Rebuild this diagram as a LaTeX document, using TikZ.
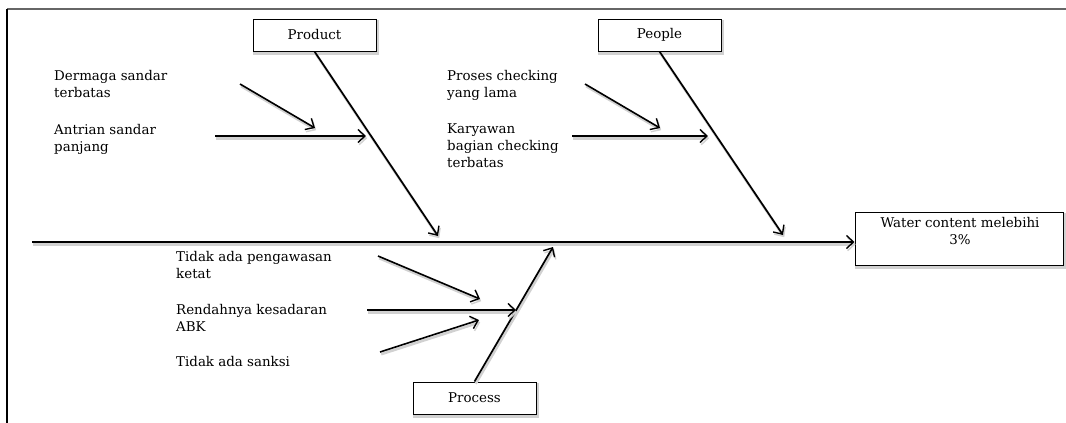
\documentclass[tikz,border=0pt]{standalone}
\usepackage{fontspec}
\setmainfont{DejaVu Serif}
\usetikzlibrary{arrows.meta}
\begin{document}
\begin{tikzpicture}[x=1pt,y=-1pt,
  every node/.style={font=\fontsize{13.4}{17}\selectfont},
  soft/.style={preaction={draw=black!18,line width=2.6pt,transform canvas={shift={(1.2pt,-2.2pt)}}}},
  catbox/.style={draw,line width=1pt,soft,fill=white,minimum width=123pt,minimum height=32pt,inner sep=0pt},
  bone/.style={line width=1.7pt,soft,-{Straight Barb[length=7pt,width=13pt,line width=1.4pt]}},
  cause/.style={line width=1.6pt,soft,-{Straight Barb[length=7pt,width=13pt,line width=1.4pt]}},
  lbl/.style={anchor=base west,align=left,inner sep=0pt}]
\useasboundingbox (0,0) rectangle (1066,423);
% page frame
\draw[line width=1.6pt,black!60] (7,9) -- (1066,9);
\draw[line width=1.4pt] (7,9) -- (7,423);

% effect and spine
\node[draw,line width=1pt,soft,fill=white,minimum width=208pt,minimum height=53pt,inner sep=0pt] (effect) at (959,238.5) {};
\node[anchor=north,align=center,inner sep=0pt] (efftext) at (960,217) {Water content melebihi\\3\%};
\coordinate (tail) at (32,242);
\draw[bone] (tail) -- (effect.west |- tail);

% category boxes
\node[catbox] (product) at (314.5,35) {Product};
\node[catbox] (people) at (659.5,35) {People};
\node[catbox] (process) at (474.5,398) {Process};

% bones
\coordinate (pEnd) at (438,236);
\coordinate (peEnd) at (783,235);
\coordinate (prEnd) at (553,247);
\draw[bone] (product.south) -- (pEnd);
\draw[bone] (people.south) -- (peEnd);
\draw[bone] (process.north) -- (prEnd);

% causes: Product
\node[lbl] (c1) at (54,97) {Dermaga sandar\\terbatas};
\node[lbl] (c2) at (54,151) {Antrian sandar\\panjang};
\coordinate (a1s) at (240,84); \coordinate (a1e) at (315,128);
\coordinate (a2s) at (215,136); \coordinate (a2e) at (366,136);
\draw[cause] (a1s) -- (a1e);
\draw[cause] (a2s) -- (a2e);

% causes: People
\node[lbl] (c3) at (447,97) {Proses checking\\yang lama};
\node[lbl] (c4) at (447,167) {Karyawan\\bagian checking\\terbatas};
\coordinate (a3s) at (585,84); \coordinate (a3e) at (660,128);
\coordinate (a4s) at (572,136); \coordinate (a4e) at (708,136);
\draw[cause] (a3s) -- (a3e);
\draw[cause] (a4s) -- (a4e);

% causes: Process
\node[lbl] (c5) at (176,278) {Tidak ada pengawasan\\ketat};
\node[lbl] (c6) at (176,331) {Rendahnya kesadaran\\ABK};
\node[lbl] (c7) at (176,366) {Tidak ada sanksi};
\coordinate (a5s) at (378,256); \coordinate (a5e) at (480,299);
\coordinate (a6s) at (367,310); \coordinate (a6e) at (516,310);
\coordinate (a7s) at (380,352); \coordinate (a7e) at (479,320);
\draw[cause] (a5s) -- (a5e);
\draw[cause] (a6s) -- (a6e);
\draw[cause] (a7s) -- (a7e);
\end{tikzpicture}
\end{document}
